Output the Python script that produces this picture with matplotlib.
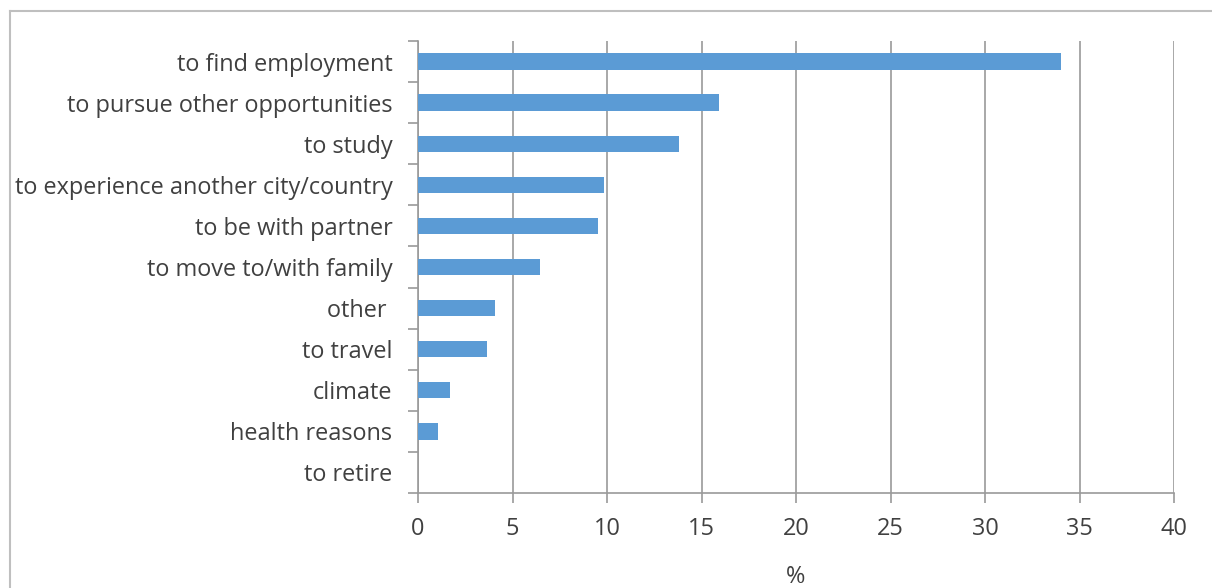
import matplotlib
matplotlib.use("Agg")
import matplotlib.pyplot as plt
from matplotlib.lines import Line2D
import numpy as np

plt.rcParams['font.family'] = ['Open Sans', 'DejaVu Sans']

categories = [
    "to find employment",
    "to pursue other opportunities",
    "to study",
    "to experience another city/country",
    "to be with partner",
    "to move to/with family",
    "other ",
    "to travel",
    "climate",
    "health reasons",
    "to retire",
]
values = [34.0, 15.9, 13.8, 9.85, 9.5, 6.45, 4.1, 3.65, 1.7, 1.05, 0.0]
x_ticks = [0, 5, 10, 15, 20, 25, 30, 35, 40]

W, H = 1212, 588
fig = plt.figure(figsize=(W / 100, H / 100), dpi=100)
fig.patch.set_facecolor("white")

left, right, top, bottom = 418, 1174, 41, 493
ax = fig.add_axes([left / W, 1 - bottom / H, (right - left) / W, (bottom - top) / H])

n = len(categories)
ypos = np.arange(n)
ax.barh(ypos, values, height=0.4, color="#5B9BD5", zorder=3)

ax.set_ylim(n - 0.5, -0.5)
ax.set_xlim(0, 40)

text_color = "#404040"
grid_color = "#9A9A9A"
fs = 16.9

# category labels at centres, tick marks at category boundaries
ax.set_yticks(ypos)
ax.set_yticklabels(categories, fontsize=fs, color=text_color)
ax.tick_params(axis="y", which="major", length=0, pad=18.5)
ax.set_yticks(np.arange(-0.5, n, 1.0), minor=True)
ax.tick_params(axis="y", which="minor", length=7, width=1.2, color=grid_color, direction="out")

ax.set_xticks(x_ticks)
ax.set_xticklabels([str(t) for t in x_ticks], fontsize=fs, color=text_color)
ax.tick_params(axis="x", which="major", length=7, width=1.2, color=grid_color, direction="out", pad=10.5)
ax.xaxis.grid(True, color=grid_color, linewidth=1.2, zorder=0)
ax.set_axisbelow(True)

ax.set_xlabel("%", fontsize=fs, color=text_color, labelpad=17)

for side in ("top", "right"):
    ax.spines[side].set_visible(False)
for side in ("left", "bottom"):
    ax.spines[side].set_color(grid_color)
    ax.spines[side].set_linewidth(1.2)

# chart frame
frame_color = "#BFBFBF"
fig.add_artist(Line2D([10 / W, 1.0], [1 - 11 / H, 1 - 11 / H], color=frame_color, linewidth=1.5, transform=fig.transFigure))
fig.add_artist(Line2D([10 / W, 10 / W], [0.0, 1 - 11 / H], color=frame_color, linewidth=1.5, transform=fig.transFigure))

fig.savefig("out.png", dpi=100, facecolor="white")
